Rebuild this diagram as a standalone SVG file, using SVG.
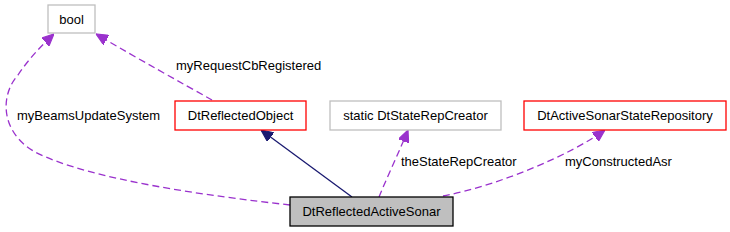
<svg xmlns="http://www.w3.org/2000/svg" width="730" height="232" viewBox="0 0 730 232">
<style>
text{font-family:"Liberation Sans",Arial,sans-serif;font-size:13px;fill:#000}
.n{text-anchor:middle}
.gray{fill:#fff;stroke:#bfbfbf;stroke-width:1.3}
.red{fill:#fff;stroke:#ff0000;stroke-width:1.3}
.main{fill:#bfbfbf;stroke:#000;stroke-width:1.3}
.dep{fill:none;stroke:#9a32cd;stroke-width:1.3;stroke-dasharray:7,4}
.inh{fill:none;stroke:#191970;stroke-width:1.3}
</style>
<defs>
<marker id="ap" viewBox="0 0 10 10" refX="10" refY="5" markerWidth="12" markerHeight="11" markerUnits="userSpaceOnUse" orient="auto" preserveAspectRatio="none">
<path d="M0,0L10,5L0,10z" fill="#9a32cd" stroke="#9a32cd"/>
</marker>
<marker id="an" viewBox="0 0 10 10" refX="10" refY="5" markerWidth="12" markerHeight="11" markerUnits="userSpaceOnUse" orient="auto" preserveAspectRatio="none">
<path d="M0,0L10,5L0,10z" fill="#191970" stroke="#191970"/>
</marker>
</defs>
<g id="connectors">
<path class="dep" d="M212,100 C180,82 140,60 96,34" marker-end="url(#ap)"/>
<path class="dep" d="M290,205 C210,196 90,180 35,152 C0,132 0,95 18,75 C28,60 40,47 54,34" marker-end="url(#ap)"/>
<path class="inh" d="M352,197 L261,130" marker-end="url(#an)"/>
<path class="dep" d="M379,197 C388,175 400,150 408,130" marker-end="url(#ap)"/>
<path class="dep" d="M443,196 C500,185 570,155 605,130" marker-end="url(#ap)"/>
</g>
<g id="bool"><rect class="gray" x="48" y="5" width="47" height="28"/><text class="n" x="71.5" y="23.5">bool</text></g>
<g id="DtReflectedObject"><rect class="red" x="175" y="101" width="131" height="29"/><text class="n" x="240.5" y="120">DtReflectedObject</text></g>
<g id="DtStateRepCreator"><rect class="gray" x="330" y="101" width="171" height="29"/><text class="n" x="415.5" y="120">static DtStateRepCreator</text></g>
<g id="DtActiveSonarStateRepository"><rect class="red" x="524" y="101" width="202" height="29"/><text class="n" x="625" y="120">DtActiveSonarStateRepository</text></g>
<g id="DtReflectedActiveSonar"><rect class="main" x="290" y="197" width="163" height="29"/><text class="n" x="371.5" y="216">DtReflectedActiveSonar</text></g>
<g id="labels">
<text x="176" y="70">myRequestCbRegistered</text>
<text x="17" y="120">myBeamsUpdateSystem</text>
<text x="401" y="166">theStateRepCreator</text>
<text x="565" y="166">myConstructedAsr</text>
</g>
</svg>
